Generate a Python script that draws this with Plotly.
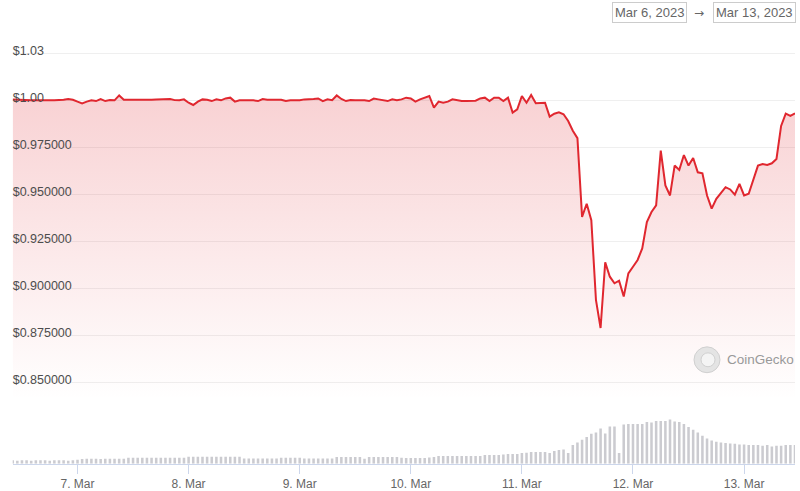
import pandas as pd
import plotly.graph_objects as go

W, H = 800, 491

# ---------------- data ----------------
times = pd.date_range("2023-03-06 10:00", periods=170, freq="h")

price = [
    1.0008, 1.0006, 1.0006, 1.0006, 1.0004, 1.0004, 1.0003, 1.0004, 1.0004, 1.0004,
    1.0004, 1.0006, 1.0010, 1.0006, 0.9996, 0.9987, 0.9996, 1.0003, 0.9999, 1.0010,
    0.9999, 1.0004, 1.0003, 1.0029, 1.0006, 1.0006, 1.0006, 1.0004, 1.0003, 1.0004,
    1.0006, 1.0008, 1.0008, 1.0006, 1.0010, 1.0004, 1.0003, 1.0008, 0.9990, 0.9978,
    0.9996, 1.0008, 1.0006, 0.9999, 1.0008, 1.0003, 1.0013, 1.0017, 0.9996, 1.0003,
    1.0004, 1.0004, 1.0003, 0.9999, 1.0010, 1.0006, 1.0008, 1.0006, 1.0006, 0.9999,
    1.0003, 1.0003, 1.0004, 1.0008, 1.0008, 1.0010, 1.0013, 0.9999, 1.0008, 1.0004,
    1.0029, 1.0010, 0.9999, 1.0004, 1.0003, 1.0004, 1.0003, 0.9999, 1.0012, 1.0008,
    1.0004, 0.9999, 1.0008, 1.0004, 1.0008, 1.0017, 1.0013, 0.9996, 1.0008, 1.0017,
    1.0026, 0.9964, 0.9996, 0.9990, 0.9996, 1.0008, 1.0003, 0.9999, 0.9999, 0.9999,
    1.0001, 1.0013, 1.0017, 0.9999, 1.0017, 1.0017, 0.9999, 1.0017, 0.9938, 0.9955,
    1.0026, 0.9990, 1.0031, 0.9987, 0.9990, 0.9990, 0.9916, 0.9932, 0.9939, 0.9929,
    0.9893, 0.9841, 0.9802, 0.9383, 0.9453, 0.9365, 0.8942, 0.8792, 0.9141, 0.9065,
    0.9030, 0.9044, 0.8960, 0.9083, 0.9118, 0.9154, 0.9215, 0.9356, 0.9409, 0.9444,
    0.9735, 0.9550, 0.9497, 0.9656, 0.9633, 0.9712, 0.9656, 0.9696, 0.9620, 0.9615,
    0.9497, 0.9427, 0.9479, 0.9511, 0.9541, 0.9529, 0.9501, 0.9559, 0.9497, 0.9506,
    0.9576, 0.9656, 0.9664, 0.9659, 0.9668, 0.9691, 0.9867, 0.9932, 0.9920, 0.9934,
]

# relative trading volume (bar heights)
volume = [
    3.3, 3.0, 3.3, 3.3, 3.0, 3.3, 3.3, 3.3, 3.0, 3.3, 3.3, 3.3, 3.0, 3.3,
    4.0,
    4.7, 5.0, 5.0, 5.0, 4.7, 5.0, 5.0, 5.0, 5.0, 5.0,
    6.0, 6.0, 6.0, 6.0, 6.0, 6.0, 6.0, 6.0, 6.0, 6.0, 6.0, 6.0, 6.0,
    7.0, 7.0, 7.0, 7.0, 7.0, 7.0, 7.0, 7.0, 7.0, 7.0, 7.0, 7.0,
    5.3, 5.3, 5.3, 5.3, 5.3, 5.3, 5.3, 5.3,
    6.0, 6.0, 6.0, 6.0, 6.0,
    5.3, 5.3, 5.3, 5.3, 5.3, 5.3, 5.3,
    6.7, 6.7, 6.7, 6.7, 6.7, 6.7,
    5.0,
    6.7, 6.7, 6.7, 6.7, 6.7, 6.7, 6.7,
    6.0, 5.7, 5.7, 5.7, 5.7, 5.7, 6.3, 6.7,
    7.7, 7.7, 7.7, 7.7, 7.7, 7.7, 7.7, 7.7, 7.7, 7.7,
    8.7, 8.7, 8.7, 8.7, 9.3, 9.7, 9.7, 9.7, 10.7, 11.0,
    11.7, 11.7, 11.7, 11.7, 10.7, 12.7, 13.7, 14.3, 10.7, 18.7,
    21.3, 24.0, 26.7, 30.0, 31.3, 35.3, 30.3, 37.3, 37.3, 10.7,
    39.3, 40.0, 40.0, 40.0, 40.0, 42.0, 41.3, 43.0, 43.0, 43.0,
    44.3, 42.3, 42.0, 40.0, 37.0, 34.0, 31.3, 28.0, 25.3, 23.3,
    22.0, 21.3, 20.7, 20.3, 20.0, 19.3, 19.3, 18.7, 18.7, 18.7,
    18.0, 18.7, 17.3, 18.0, 18.0, 18.7, 18.7, 18.7,
]

y_tickvals = [0.85, 0.875, 0.9, 0.925, 0.95, 0.975, 1.0, 1.025]
y_ticktext = ["$0.850000", "$0.875000", "$0.900000", "$0.925000",
              "$0.950000", "$0.975000", "$1.00", "$1.03"]
x_tickvals = ["2023-03-07", "2023-03-08", "2023-03-09", "2023-03-10",
              "2023-03-11", "2023-03-12", "2023-03-13"]
x_ticktext = ["7. Mar", "8. Mar", "9. Mar", "10. Mar", "11. Mar", "12. Mar", "13. Mar"]
date_from = "Mar 6, 2023"
date_to = "Mar 13, 2023"
brand = "CoinGecko"

LINE = "rgb(224,39,47)"
FONT = "Liberation Sans, Arial, sans-serif"


def fx(p):
    return p / W


def fy(p):
    return 1 - p / H


fig = go.Figure()
fig.add_trace(go.Scatter(
    x=times, y=price, mode="lines",
    line=dict(color=LINE, width=2),
    fill="tozeroy",
    fillgradient=dict(type="vertical",
                      colorscale=[[0, "rgba(224,39,47,0.0)"], [1, "rgba(224,39,47,0.21)"]],
                      start=0.842, stop=1.003),
    xaxis="x", yaxis="y", hoverinfo="skip",
))
fig.add_trace(go.Bar(
    x=times, y=volume, marker=dict(color="#cbcbd0", line=dict(width=0)),
    xaxis="x", yaxis="y2", hoverinfo="skip",
))

# price axis: 1.00 at y=101.5 px, 1892 px per 1.0
y_top_px, y_bot_px = 28, 400
y_lo = 1 - (y_bot_px - 101.5) / 1892
y_hi = 1 - (y_top_px - 101.5) / 1892

fig.update_layout(
    width=W, height=H,
    margin=dict(l=0, r=0, t=0, b=0),
    paper_bgcolor="white", plot_bgcolor="rgba(0,0,0,0)",
    showlegend=False, bargap=0.45,
    font=dict(family=FONT),
    xaxis=dict(
        domain=[fx(12.7), fx(795)],
        range=[times[0], times[-1]],
        anchor="y2",
        tickvals=x_tickvals, ticktext=x_ticktext,
        ticks="outside", ticklen=9, tickwidth=1, tickcolor="#ccd6eb",
        showline=True, linecolor="#ccd6eb", linewidth=1,
        showgrid=False, zeroline=False,
        tickfont=dict(size=12, color="#666666"),
    ),
    yaxis=dict(
        domain=[fy(y_bot_px), fy(y_top_px)],
        range=[y_lo, y_hi],
        anchor="x",
        tickvals=y_tickvals, ticktext=y_ticktext,
        ticklabelposition="inside",
        ticklabelshift=-3, ticklabelstandoff=-3,
        ticks="", showline=False, zeroline=False,
        showgrid=True, gridcolor="#efefef", gridwidth=1,
        tickfont=dict(size=12.5, color="#4d4d4d"),
    ),
    yaxis2=dict(
        domain=[fy(466.5), fy(416)],
        range=[0, 50.5],
        anchor="x",
        showgrid=False, showticklabels=False, zeroline=False, showline=False,
    ),
)

# date range boxes
fig.add_annotation(x=fx(649), y=fy(13), xref="paper", yref="paper",
                   text=date_from, showarrow=False,
                   font=dict(size=13, color="#666666", family=FONT),
                   bordercolor="#cccccc", borderwidth=1, borderpad=2,
                   xanchor="center", yanchor="middle")
fig.add_annotation(x=fx(698.5), y=fy(13), xref="paper", yref="paper",
                   text="→", showarrow=False,
                   font=dict(size=12, color="#666666", family="DejaVu Sans"),
                   xanchor="center", yanchor="middle")
fig.add_annotation(x=fx(754.5), y=fy(13), xref="paper", yref="paper",
                   text=date_to, showarrow=False,
                   font=dict(size=13, color="#666666", family=FONT),
                   bordercolor="#cccccc", borderwidth=1, borderpad=2,
                   xanchor="center", yanchor="middle")

# watermark
fig.add_shape(type="circle", xref="paper", yref="paper",
              x0=fx(694), x1=fx(720), y0=fy(375), y1=fy(349),
              fillcolor="#e4e4e4", line=dict(color="#d0d0d0", width=1), layer="above")
fig.add_shape(type="circle", xref="paper", yref="paper",
              x0=fx(701), x1=fx(715), y0=fy(369), y1=fy(355),
              fillcolor="#f4f4f4", line=dict(color="#d0d0d0", width=1), layer="above")
fig.add_annotation(x=fx(725), y=fy(362), xref="paper", yref="paper",
                   text=brand, showarrow=False,
                   font=dict(size=13.5, color="#999999", family=FONT),
                   xanchor="left", yanchor="middle")

fig.write_html(
    "out.html",
    config={"displayModeBar": False},
    post_script="document.body.style.margin='0';document.body.style.overflow='hidden';",
)
